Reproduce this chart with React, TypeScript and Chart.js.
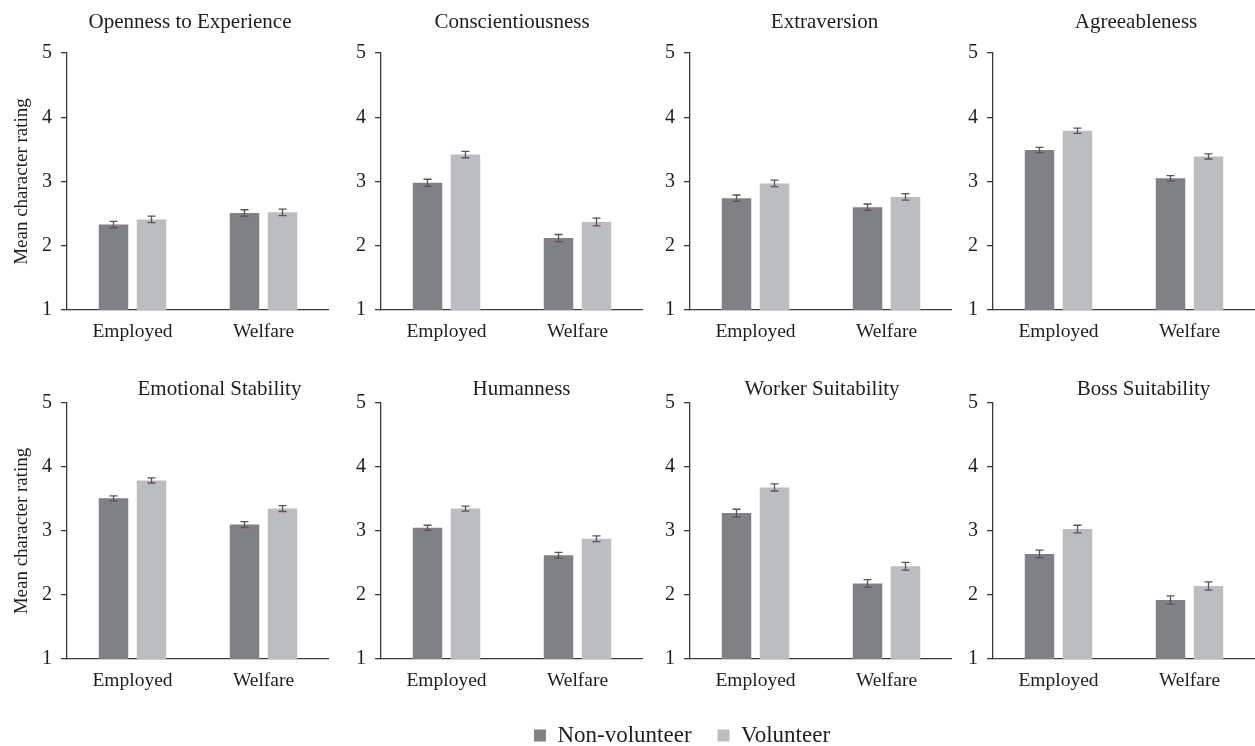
import React, { useEffect, useRef } from "react";
import { Chart, registerables } from "chart.js";

Chart.register(...registerables);

// ---------- data ----------
const categories = ["Employed", "Welfare"];
const groups = ["Non-volunteer", "Volunteer"];
const traits = [
  "Openness to Experience",
  "Conscientiousness",
  "Extraversion",
  "Agreeableness",
  "Emotional Stability",
  "Humanness",
  "Worker Suitability",
  "Boss Suitability",
];
// [Employed, Welfare] per trait
const nonVolunteerMeans = [
  [2.33, 2.51],
  [2.98, 2.12],
  [2.74, 2.6],
  [3.49, 3.05],
  [3.51, 3.1],
  [3.05, 2.62],
  [3.28, 2.18],
  [2.64, 1.92],
];
const volunteerMeans = [
  [2.41, 2.52],
  [3.42, 2.37],
  [2.97, 2.76],
  [3.79, 3.39],
  [3.79, 3.35],
  [3.35, 2.88],
  [3.68, 2.45],
  [3.03, 2.14],
];
const nonVolunteerErr = [
  [0.05, 0.05],
  [0.055, 0.055],
  [0.05, 0.05],
  [0.04, 0.04],
  [0.04, 0.045],
  [0.04, 0.045],
  [0.06, 0.06],
  [0.06, 0.065],
];
const volunteerErr = [
  [0.05, 0.05],
  [0.05, 0.06],
  [0.05, 0.05],
  [0.04, 0.04],
  [0.04, 0.045],
  [0.04, 0.045],
  [0.055, 0.06],
  [0.06, 0.065],
];
const yMin = 1;
const yMax = 5;
const yStep = 1;
const yAxisTitle = "Mean character rating";

// ---------- layout / style ----------
const FONT = "'Liberation Serif', 'Times New Roman', serif";
const COLORS = {
  nv: "#808185",
  v: "#bcbdc1",
  axis: "#3a3a3a",
  text: "#1e1e1e",
  err: "#555555",
};
const COL_AXIS_X = [67, 381, 690, 993];
const AREA_W = 262;
const ROWS = [
  { top: 0, areaTop: 53, areaBottom: 310, titleBase: 28 },
  { top: 370, areaTop: 403, areaBottom: 659, titleBase: 395 },
];
const TITLE_X = [190, 512, 824.5, 1136, 219.5, 521.5, 822, 1143.5];
const X_AXIS_H = 40;

const panelTitlePlugin = {
  id: "panelTitle",
  afterDraw(chart: any, _args: any, opts: any) {
    const ctx = chart.ctx;
    ctx.save();
    ctx.font = `21px ${FONT}`;
    ctx.fillStyle = COLORS.text;
    ctx.textAlign = "center";
    ctx.textBaseline = "alphabetic";
    ctx.fillText(opts.text, opts.x, opts.y);
    ctx.restore();
  },
};

const errorBarPlugin = {
  id: "errorBars",
  afterDatasetsDraw(chart: any, _args: any, opts: any) {
    const ctx = chart.ctx;
    const y = chart.scales.y;
    chart.data.datasets.forEach((ds: any, di: number) => {
      const meta = chart.getDatasetMeta(di);
      const errs = opts.errors[di];
      meta.data.forEach((bar: any, i: number) => {
        const v = ds.data[i];
        const e = errs[i];
        const top = y.getPixelForValue(v + e);
        const bot = y.getPixelForValue(v - e);
        ctx.save();
        ctx.strokeStyle = COLORS.err;
        ctx.lineWidth = 1.3;
        ctx.beginPath();
        ctx.moveTo(bar.x, top);
        ctx.lineTo(bar.x, bot);
        ctx.moveTo(bar.x - 4, top);
        ctx.lineTo(bar.x + 4, top);
        ctx.moveTo(bar.x - 4, bot);
        ctx.lineTo(bar.x + 4, bot);
        ctx.stroke();
        ctx.restore();
      });
    });
  },
};

function Panel({ index }: { index: number }) {
  const ref = useRef<HTMLCanvasElement>(null);
  const col = index % 4;
  const row = Math.floor(index / 4);
  const r = ROWS[row];
  const axisX = COL_AXIS_X[col];
  const left = col === 0 ? 0 : axisX - 60;
  const yAxisW = axisX - left;
  const width = axisX + AREA_W - left;
  const height = r.areaBottom + X_AXIS_H - r.top;

  useEffect(() => {
    if (!ref.current) return;
    const chart = new Chart(ref.current, {
      type: "bar",
      data: {
        labels: categories,
        datasets: [
          { label: groups[0], data: nonVolunteerMeans[index], backgroundColor: COLORS.nv },
          { label: groups[1], data: volunteerMeans[index], backgroundColor: COLORS.v },
        ],
      },
      options: {
        responsive: false,
        animation: false,
        devicePixelRatio: 1,
        layout: { padding: { top: r.areaTop - r.top, left: 0, right: 0, bottom: 0 } },
        datasets: { bar: { categoryPercentage: 0.58, barPercentage: 0.776 } },
        plugins: {
          legend: { display: false },
          tooltip: { enabled: false },
          title: { display: false },
          panelTitle: { text: traits[index], x: TITLE_X[index] - left, y: r.titleBase - r.top },
          errorBars: { errors: [nonVolunteerErr[index], volunteerErr[index]] },
        } as any,
        scales: {
          x: {
            grid: { display: false, drawTicks: false },
            border: { display: true, color: COLORS.axis, width: 1.3 },
            ticks: { font: { family: FONT, size: 19.5 }, color: COLORS.text, padding: 10 },
            afterFit: (s: any) => {
              s.height = X_AXIS_H;
            },
          },
          y: {
            min: yMin,
            max: yMax,
            ticks: { stepSize: yStep, font: { family: FONT, size: 20 }, color: COLORS.text, padding: 9 },
            grid: { drawOnChartArea: false, drawTicks: true, tickLength: 6, color: COLORS.axis, lineWidth: 1.3 },
            border: { display: true, color: COLORS.axis, width: 1.3 },
            title: {
              display: col === 0,
              text: yAxisTitle,
              font: { family: FONT, size: 19 },
              color: COLORS.text,
              padding: { top: 11, bottom: 0 },
            },
            afterFit: (s: any) => {
              s.width = yAxisW;
            },
          },
        },
      },
      plugins: [panelTitlePlugin, errorBarPlugin],
    } as any);
    return () => chart.destroy();
  }, []);

  return (
    <canvas
      ref={ref}
      width={width}
      height={height}
      style={{ position: "absolute", left, top: r.top, width, height }}
    />
  );
}

function Legend() {
  const ref = useRef<HTMLCanvasElement>(null);
  const width = 800;
  const left = 682 - width / 2;
  const top = 680;
  const height = 150;
  useEffect(() => {
    if (!ref.current) return;
    const chart = new Chart(ref.current, {
      type: "bar",
      data: {
        labels: ["a"],
        datasets: [
          { label: groups[0], data: [null], backgroundColor: COLORS.nv },
          { label: groups[1], data: [null], backgroundColor: COLORS.v },
        ],
      },
      options: {
        responsive: false,
        animation: false,
        devicePixelRatio: 1,
        layout: { padding: { top: 18, left: 0, right: 0, bottom: 0 } },
        scales: { x: { display: false }, y: { display: false } },
        plugins: {
          tooltip: { enabled: false },
          legend: {
            display: true,
            position: "top",
            labels: {
              boxWidth: 12,
              boxHeight: 12,
              padding: 26,
              color: COLORS.text,
              font: { family: FONT, size: 23 },
            },
          },
        },
      },
    } as any);
    return () => chart.destroy();
  }, []);
  return (
    <canvas
      ref={ref}
      width={width}
      height={height}
      style={{ position: "absolute", left, top, width, height }}
    />
  );
}

export default function App() {
  return (
    <div
      style={{
        position: "absolute",
        left: 0,
        top: 0,
        width: 1255,
        height: 746,
        overflow: "hidden",
        background: "#ffffff",
      }}
    >
      {traits.map((_, i) => (
        <Panel key={i} index={i} />
      ))}
      <Legend />
    </div>
  );
}
